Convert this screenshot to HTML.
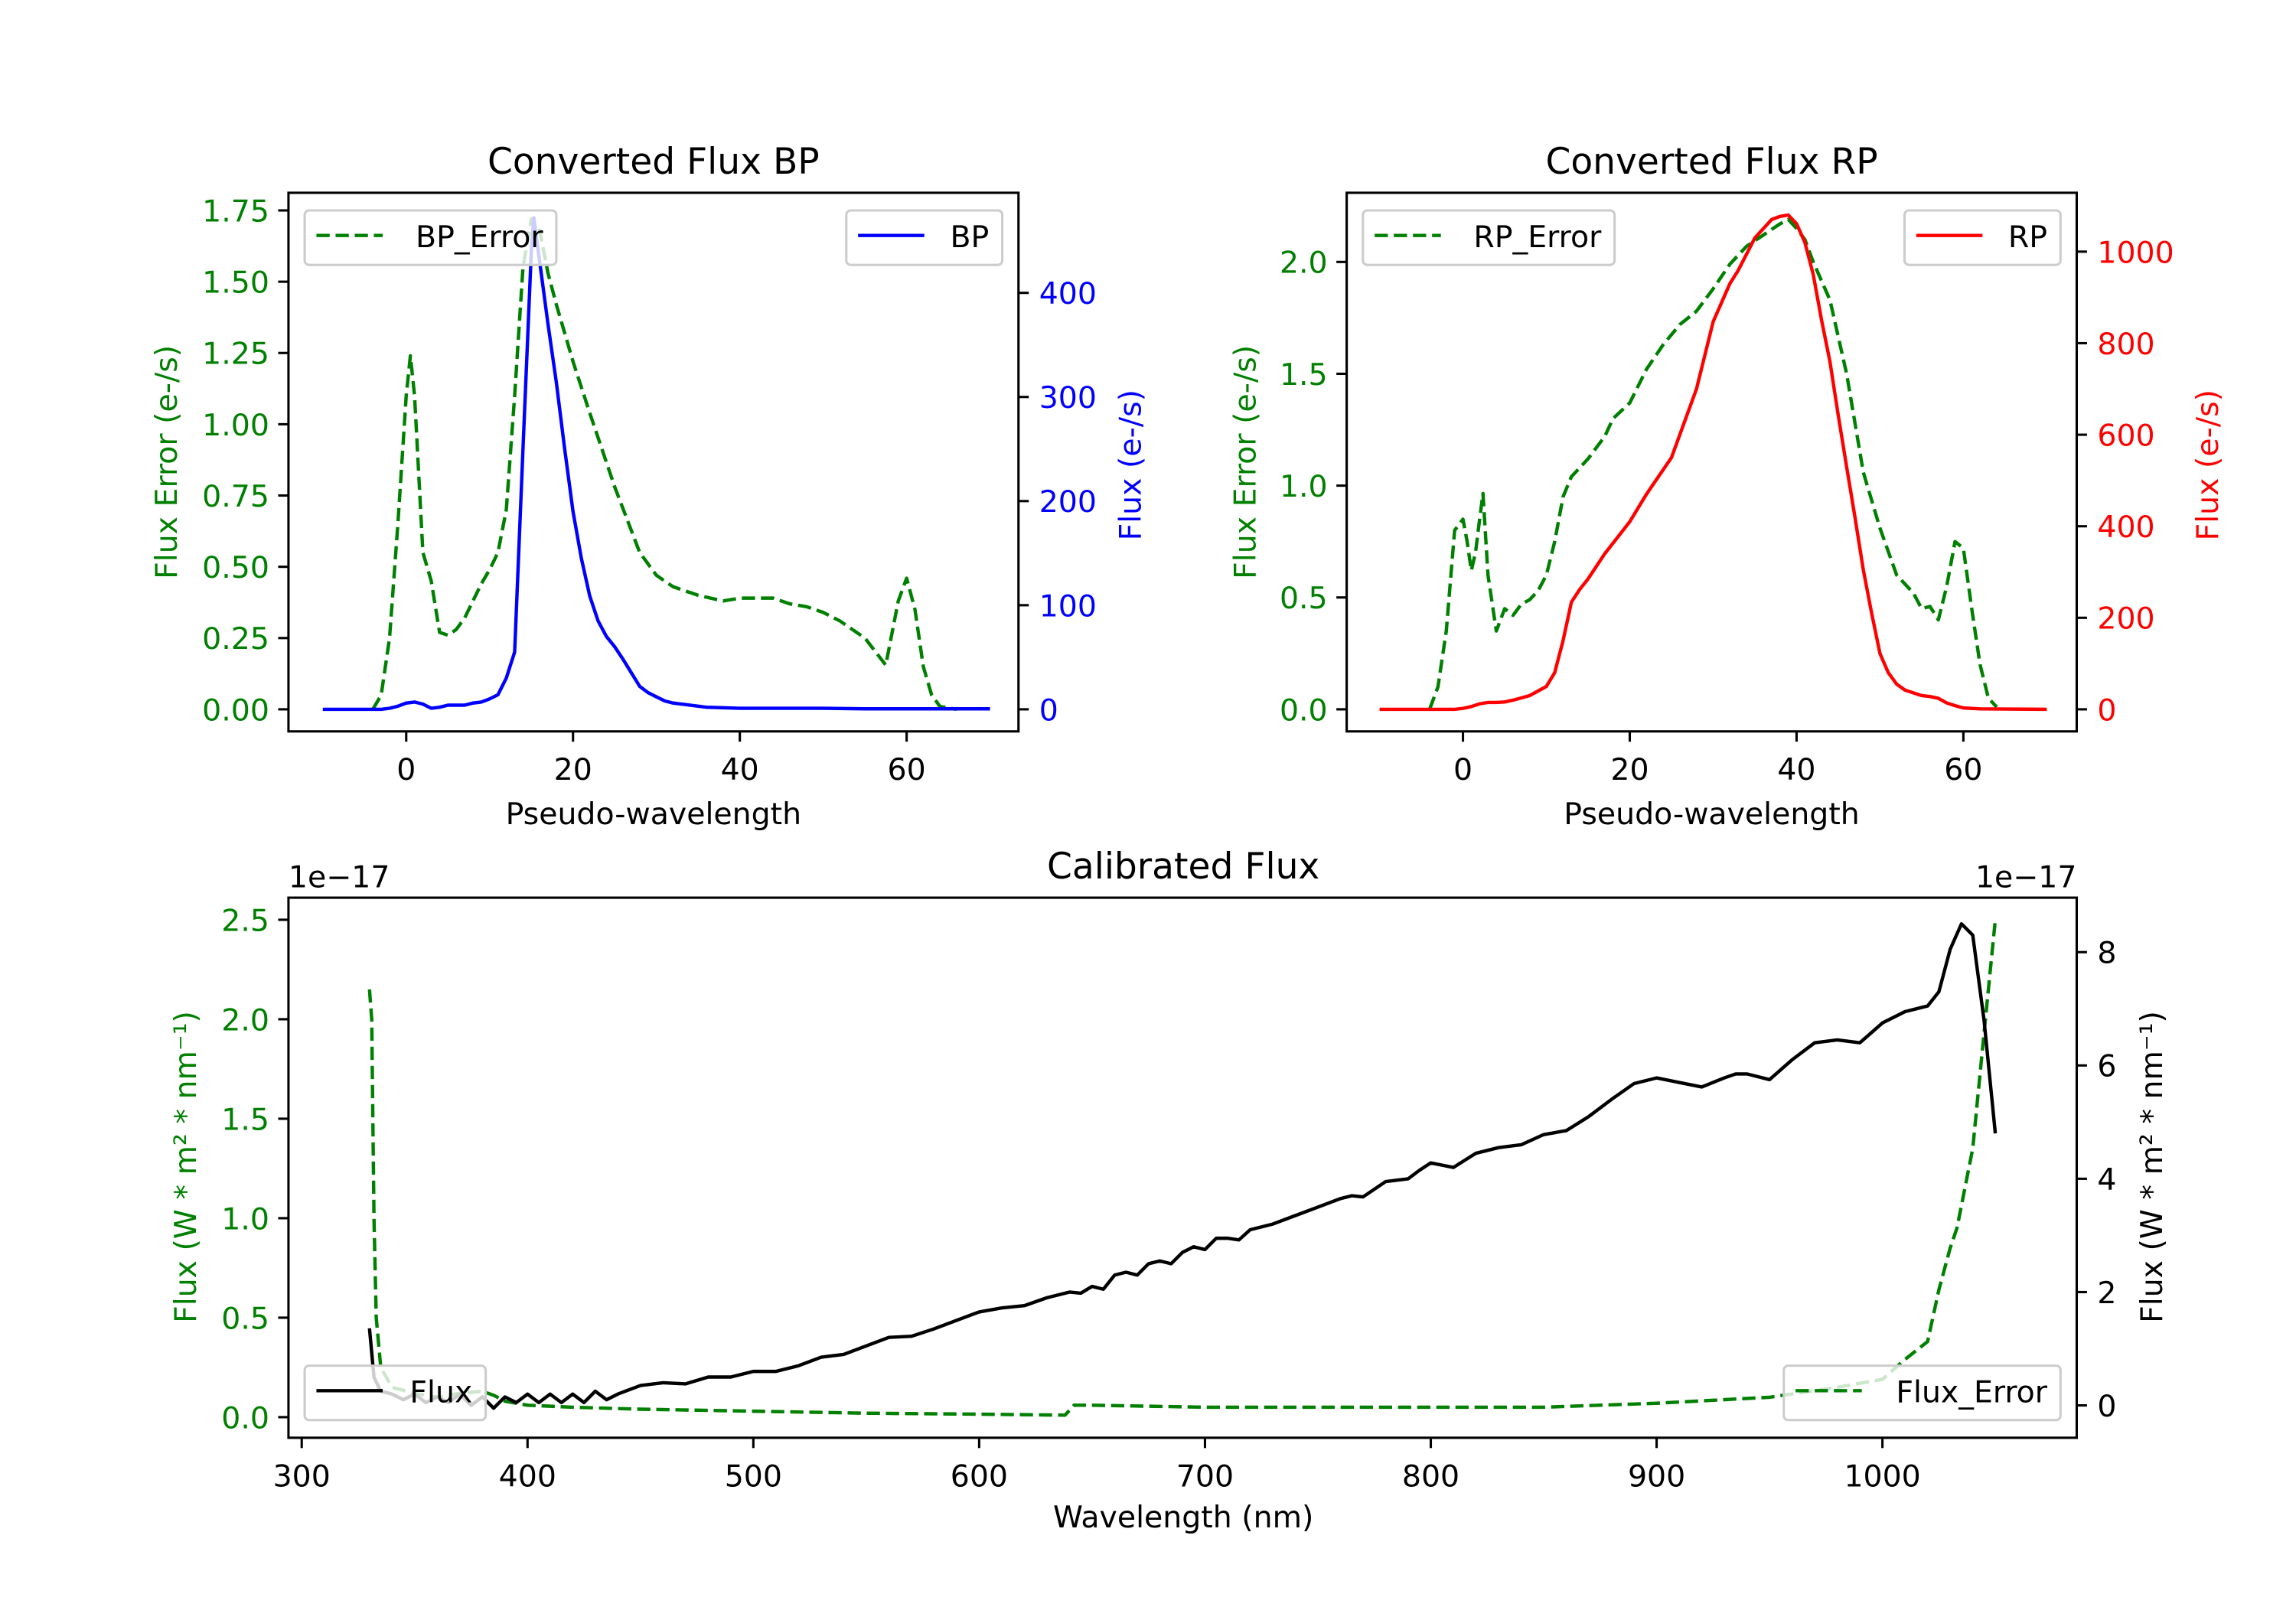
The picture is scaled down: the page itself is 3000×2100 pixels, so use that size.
<!DOCTYPE html>
<html><head><meta charset="utf-8"><style>
html,body{margin:0;padding:0;background:#fff;}
svg{display:block;font-family:"DejaVu Sans","Liberation Sans",sans-serif;}
</style></head><body>
<svg id="fig" width="3000" height="2100" viewBox="0 0 1560 1092" preserveAspectRatio="none" xmlns="http://www.w3.org/2000/svg"></svg>
<script>
// ---- data ----
const bpX=[-10,-8,-6,-4,-3,-2,-1,0,1,2,3,4,5,6,7,8,9,10,11,12,13,14,15,15.3,16,17,18,19,20,21,22,23,24,25,26,27,28,29,30,31,32,33,34,35,36,38,40,45,50,55,60,65,70];
const bpY=[0,0,0,0,0,1,3,6,7,5,1,2,4,4,4,6,7,10,14,30,55,250,440,472,430,370,314,250,190,145,109,85,70,60,48,35,22,16,12,8,6,5,4,3,2,1.5,1,1,1,0.5,0.5,0.5,0.5];
const bpErrX=[-4,-3,-2,-1,0,0.5,1,2,2.5,3,4,5,6,7,8,9,10,11,12,13,14,15,16,17,18,20,22,25,28,30,32,35,38,40,42,44,46,48,50,52,55,57.5,59,60,61,62,63,64,66];
const bpErrY=[0,0.05,0.25,0.65,1.1,1.24,1.1,0.55,0.5,0.45,0.27,0.26,0.28,0.32,0.38,0.44,0.49,0.55,0.7,1.1,1.55,1.72,1.68,1.53,1.42,1.22,1.04,0.78,0.55,0.47,0.43,0.40,0.38,0.39,0.39,0.39,0.37,0.36,0.34,0.31,0.25,0.155,0.38,0.46,0.35,0.15,0.05,0.01,0];
const rpX=[-10,-5,-1,0,1,2,3,4,5,6,7,8,9,10,11,12,13,14,15,17,20,22,25,28,30,32,33,35,37,38,39,40,41,42,43,44,45,46,47,48,49,50,51,52,53,55,56,57,58,59,60,62,70];
const rpY=[0,0,0,2,6,12,15,15,16,20,25,30,40,50,80,150,234,262,285,340,410,470,550,700,847,930,959,1030,1070,1077,1080,1061,1020,950,850,760,642,530,420,305,210,122,80,55,42,30,28,24,14,8,3,1,0];
const rpErrX=[-4,-3,-2,-1,0,0.5,1,1.5,2,2.4,3,4,5,6,7,8,9,10,11,12,13,15,17,18,20,22,24,26,28,30,32,34,36,38,39,40,41,42,44,46,48,50,52,54,55,56,57,58,59,60,61,62,63,64];
const rpErrY=[0,0.1,0.35,0.8,0.85,0.75,0.62,0.7,0.85,0.965,0.6,0.35,0.45,0.42,0.47,0.49,0.53,0.6,0.75,0.95,1.04,1.12,1.22,1.3,1.37,1.52,1.63,1.72,1.78,1.88,1.99,2.07,2.12,2.17,2.19,2.15,2.1,2.0,1.83,1.5,1.06,0.81,0.6,0.52,0.45,0.46,0.40,0.55,0.75,0.72,0.45,0.2,0.05,0.01];
const calWl=[330,332,335,340,345,350,355,360,365,370,375,380,385,390,395,400,405,410,415,420,425,430,435,440,450,460,470,480,490,500,510,520,530,540,550,560,570,580,590,600,610,620,630,640,645,650,655,660,665,670,675,680,685,690,695,700,705,710,715,720,730,740,750,760,765,770,780,790,795,800,810,820,830,840,850,860,870,880,890,900,910,920,930,935,940,950,960,970,980,990,1000,1010,1020,1025,1030,1035,1040,1045,1050];
const calFlux=[1.36,0.5,0.25,0.2,0.1,0.2,0.05,0.15,0.05,0.2,0.0,0.15,-0.05,0.15,0.05,0.2,0.05,0.2,0.05,0.2,0.05,0.25,0.1,0.2,0.35,0.4,0.38,0.5,0.5,0.6,0.6,0.7,0.85,0.9,1.05,1.2,1.22,1.35,1.5,1.65,1.72,1.76,1.9,2.0,1.98,2.1,2.05,2.3,2.35,2.3,2.5,2.55,2.5,2.7,2.8,2.75,2.95,2.95,2.92,3.1,3.2,3.35,3.5,3.65,3.7,3.68,3.95,4.0,4.15,4.28,4.2,4.45,4.55,4.6,4.78,4.85,5.1,5.4,5.68,5.78,5.7,5.62,5.78,5.85,5.85,5.75,6.1,6.4,6.45,6.4,6.75,6.95,7.05,7.3,8.05,8.5,8.3,6.8,4.8];
const errWl=[330,331,332,333,335,340,350,360,370,380,385,390,400,420,450,500,550,600,638,642,650,700,750,800,850,900,950,980,1000,1010,1020,1025,1030,1033,1040,1045,1050];
const errVal=[2.15,2.0,1.0,0.5,0.25,0.15,0.12,0.1,0.12,0.13,0.11,0.08,0.06,0.05,0.04,0.03,0.02,0.015,0.01,0.06,0.06,0.05,0.05,0.05,0.05,0.07,0.1,0.15,0.19,0.29,0.38,0.64,0.85,0.95,1.35,1.93,2.5];
const pseudoTicks=[0,20,40,60];
const bpErrTicks=[0,0.25,0.5,0.75,1.0,1.25,1.5,1.75];
const bpErrTickLabels=["0.00","0.25","0.50","0.75","1.00","1.25","1.50","1.75"];
const bpFluxTicks=[0,100,200,300,400];
const rpErrTicks=[0,0.5,1.0,1.5,2.0];
const rpErrTickLabels=["0.0","0.5","1.0","1.5","2.0"];
const rpFluxTicks=[0,200,400,600,800,1000];
const wlTicks=[300,400,500,600,700,800,900,1000];
const calErrTicks=[0,0.5,1.0,1.5,2.0,2.5];
const calErrTickLabels=["0.0","0.5","1.0","1.5","2.0","2.5"];
const calFluxTicks=[0,2,4,6,8];

// ---- helpers ----
const NS="http://www.w3.org/2000/svg";
const svg=document.getElementById('fig');
const FS=20.5, TFS=24.5, LW=2.3, DASH='9,4';
function mk(tag,attrs,parent){const e=document.createElementNS(NS,tag);for(const k in attrs)e.setAttribute(k,attrs[k]);(parent||svg).appendChild(e);return e;}
function lin(d0,d1,p0,p1){return v=>p0+(v-d0)*(p1-p0)/(d1-d0);}
function pathD(xs,ys,fx,fy){return xs.map((x,i)=>(i?'L':'M')+fx(x).toFixed(2)+','+fy(ys[i]).toFixed(2)).join(' ');}
function txt(x,y,s,size,color,anchor,rot){const t=mk('text',{x:x,y:y,'font-size':size,fill:color,'text-anchor':anchor||'middle'});if(rot)t.setAttribute('transform','rotate(-90 '+x+' '+y+')');t.textContent=s;return t;}
const GREEN='#008000';

function axes(id,x0,y0,x1,y1){
  const cp=mk('clipPath',{id:id});
  mk('rect',{x:x0,y:y0,width:x1-x0,height:y1-y0},cp);
}
function frame(x0,y0,x1,y1){
  const r=mk('rect',{x:x0,y:y0,width:x1-x0,height:y1-y0,fill:'none',stroke:'#000','stroke-width':1.6});
  
  
}
function xTicks(vals,fx,yb,labels){
  vals.forEach((v,i)=>{
    const l=mk('line',{x1:fx(v),x2:fx(v),y1:yb,y2:yb+7,stroke:'#000','stroke-width':1.6});
    
    
    const t=txt(fx(v),yb+33,labels?labels[i]:String(v),FS,'#000');
    
    
  });
}
function yTicks(vals,fy,xe,side,color,labels){
  vals.forEach((v,i)=>{
    const dx=side==='left'?-7:7;
    const l=mk('line',{x1:xe,x2:xe+dx,y1:fy(v),y2:fy(v),stroke:'#000','stroke-width':1.6});
    
    
    const t=txt(side==='left'?xe-13:xe+14,fy(v)+7.5,labels?labels[i]:String(v),FS,color,side==='left'?'end':'start');
    
    
  });
}
function series(xs,ys,fx,fy,color,dashed,clip){
  const p=mk('path',{d:pathD(xs,ys,fx,fy),fill:'none',stroke:color,'stroke-width':LW,'stroke-linejoin':'round','clip-path':'url(#'+clip+')'});
  if(dashed)p.setAttribute('stroke-dasharray',DASH);
  return p;
}
function legend(x0,y0,w,label,color,dashed){
  const g=mk('g',{});
  mk('rect',{x:x0,y:y0,width:w,height:37,rx:3,fill:'#fff','fill-opacity':0.8,stroke:'#ccc','stroke-width':1.6},g);
  const l=mk('line',{x1:x0+8,x2:x0+53,y1:y0+17,y2:y0+17,stroke:color,'stroke-width':LW},g);
  if(dashed)l.setAttribute('stroke-dasharray',DASH);
  const t=mk('text',{x:x0+w-9,y:y0+25,'font-size':FS,fill:'#000','text-anchor':'end'},g);
  t.textContent=label;
  return g;
}

// ---- BP panel ----
axes('clipBP',196,131,692,497);
const bx=lin(0,60,276,616), byL=lin(0,1.75,482,143), byR=lin(0,400,482,199);
const bpErrLine=series(bpErrX,bpErrY,bx,byL,GREEN,true,'clipBP');


const bpLine=series(bpX,bpY,bx,byR,'#0000ff',false,'clipBP');


frame(196,131,692,497);
xTicks(pseudoTicks,bx,497);
yTicks(bpErrTicks,byL,196,'left',GREEN,bpErrTickLabels);
yTicks(bpFluxTicks,byR,692,'right','#0000ff');
let e;
e=txt(444,118,'Converted Flux BP',TFS,'#000');


e=txt(444,560,'Pseudo-wavelength',FS,'#000');


e=txt(120,314,'Flux Error (e-/s)',FS,GREEN,'middle',true);


e=txt(775,316,'Flux (e-/s)',FS,'#0000ff','middle',true);


e=legend(207,143,171,'BP_Error',GREEN,true);


e=legend(575,143,106,'BP','#0000ff',false);



// ---- RP panel ----
axes('clipRP',915,131,1411,497);
const rx=lin(0,60,994,1334), ryL=lin(0,2.0,482,178), ryR=lin(0,1000,482,171);
const rpErrLine=series(rpErrX,rpErrY,rx,ryL,GREEN,true,'clipRP');


const rpLine=series(rpX,rpY,rx,ryR,'#ff0000',false,'clipRP');


frame(915,131,1411,497);
xTicks(pseudoTicks,rx,497);
yTicks(rpErrTicks,ryL,915,'left',GREEN,rpErrTickLabels);
yTicks(rpFluxTicks,ryR,1411,'right','#ff0000');
e=txt(1163,118,'Converted Flux RP',TFS,'#000');


e=txt(1163,560,'Pseudo-wavelength',FS,'#000');


e=txt(853,314,'Flux Error (e-/s)',FS,GREEN,'middle',true);


e=txt(1507,316,'Flux (e-/s)',FS,'#ff0000','middle',true);


e=legend(926,143,171,'RP_Error',GREEN,true);


e=legend(1294,143,106,'RP','#ff0000',false);



// ---- Calibrated panel ----
axes('clipCal',196,610,1411,977);
const cx=lin(300,1000,205,1279), cyL=lin(0,2.5,963,625), cyR=lin(0,8,955,647);
const errLine=series(errWl,errVal,cx,cyL,GREEN,true,'clipCal');


const fluxLine=series(calWl,calFlux,cx,cyR,'#000',false,'clipCal');


frame(196,610,1411,977);
xTicks(wlTicks,cx,977);
yTicks(calErrTicks,cyL,196,'left',GREEN,calErrTickLabels);
yTicks(calFluxTicks,cyR,1411,'right','#000');
e=txt(804,597,'Calibrated Flux',TFS,'#000');


e=txt(804,1038,'Wavelength (nm)',FS,'#000');


e=txt(196,603,'1e\u221217',FS,'#000','start');


e=txt(1411,603,'1e\u221217',FS,'#000','end');


e=txt(133,793,'Flux (W * m\u00b2 * nm\u207b\u00b9)',FS,GREEN,'middle',true);


e=txt(1469,793,'Flux (W * m\u00b2 * nm\u207b\u00b9)',FS,'#000','middle',true);


e=legend(207,928,123,'Flux','#000',false);


e=legend(1212,928,188,'Flux_Error',GREEN,true);


</script>
</body></html>
